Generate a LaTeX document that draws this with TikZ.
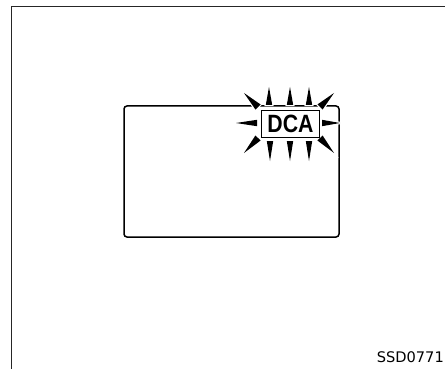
\documentclass[tikz,border=0pt]{standalone}
\usepackage{fontspec}
\setmainfont{Liberation Sans}
\newfontfamily\codefont{DejaVu Sans}
\usetikzlibrary{calc}

\begin{document}
\begin{tikzpicture}[x=1pt, y=-1pt,
    frameline/.style={line width=1.7pt, color=black!85},
    screen/.style={line width=1.5pt, rounded corners=3pt},
    dcabox/.style={draw, line width=1.8pt, minimum width=58pt, minimum height=27pt,
        inner sep=0pt, font=\bfseries\fontsize{25}{25}\selectfont},
    rayhalo/.style={fill=white, draw=white, line width=2.4pt},
    ray/.style={fill=black}
]
\useasboundingbox (0,0) rectangle (445,369);

% Outer frame (top and left only)
\coordinate (ftl) at (11.5,6.5);
\draw[frameline] (ftl |- 0,369) -- (ftl) -- (445,6.5);

% Display screen
\draw[screen] (124,106) rectangle (339,237);

% Flashing rays round the indicator: base / tip
\foreach \st in {rayhalo, ray}
  \foreach \bx/\by/\tx/\ty/\w in {269/105/269/87/3.2, 290/105/290/87/3.2, 309/105/309/87/3.2,
      270/141/270/161/3.2, 290/141/290/161/3.2, 309/141/309/161/3.2,
      257/123/236/123/3.2, 322/123/340/123/3.2,
      258/107/244/93/3.6, 320/107/334/93/3.6, 258/138/244/153/3.6, 320/138/334/153/3.6}
    \path[\st] ($(\bx,\by)!\w pt!90:(\tx,\ty)$) -- (\tx,\ty) -- ($(\bx,\by)!\w pt!-90:(\tx,\ty)$) -- cycle;

% Indicator
\node[dcabox] (dca) at (290.5,124) {\scalebox{0.85}[1]{DCA}};

% Figure code
\node[font=\codefont\fontsize{14.6}{14.6}\selectfont, anchor=east, inner sep=0pt] (code) at (444,357) {SSD0771};

\end{tikzpicture}
\end{document}
